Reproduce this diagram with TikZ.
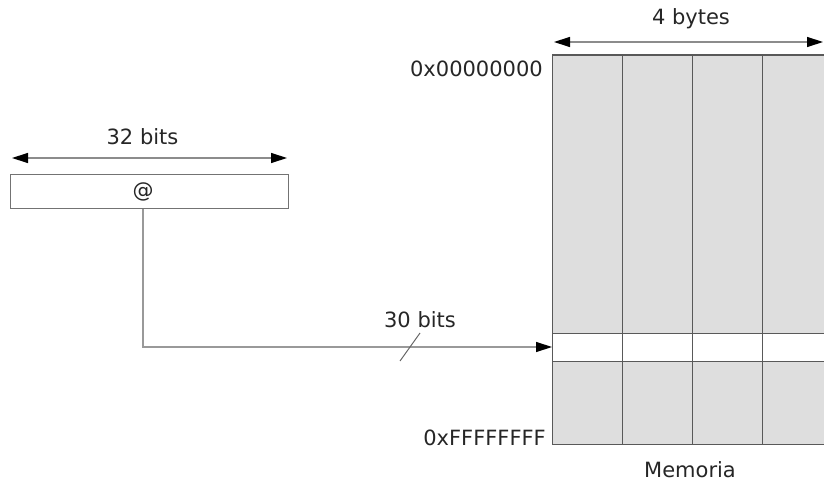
\documentclass[tikz,border=0pt]{standalone}
\usepackage{fontspec}
\setmainfont{DejaVu Sans}
\usetikzlibrary{arrows.meta}
\begin{document}
\begin{tikzpicture}[x=1pt,y=-1pt,
  lbl/.style={font=\fontsize{21}{24}\selectfont, text=black!85, inner sep=0pt},
  tip/.tip={Triangle[length=16pt,width=10pt,color=black]},
  dimline/.style={draw=black!45, line width=1.3pt, tip-tip},
  cell/.style={draw=black!65, line width=1pt},
  wire/.style={draw=black!40, line width=1.3pt}]
\useasboundingbox (0,0) rectangle (824,484);

% register holding the address
\node[draw=black!55, line width=1pt, minimum width=278pt, minimum height=34pt,
      inner sep=0pt, anchor=north west] (reg) at (10,174) {};
\node[lbl] (addr) at (143,192) {@};
\coordinate (regL) at (12,158);
\coordinate (regR) at (287,158);
\draw[dimline] (regL) -- (regR);
\node[lbl] (w32) at (142.5,137) {32 bits};

% memory block: grey array with one highlighted word
\node[fill=black!13, draw=black!65, line width=1pt, minimum width=280pt,
      minimum height=389pt, inner sep=0pt, anchor=north west] (mem) at (552,55) {};
\fill[white] (552,333) rectangle (832,361);
\foreach \cx in {622,692,762}
  \draw[cell] (\cx,55) -- (\cx,444);
\draw[cell] (552,333) -- (832,333);
\draw[cell] (552,361) -- (832,361);
\draw[cell] (552,55) rectangle (832,444);
\coordinate (row) at (552,347);

\coordinate (memL) at (554,42);
\coordinate (memR) at (823,42);
\draw[dimline] (memL) -- (memR);
\node[lbl] (w4) at (691,19) {4 bytes};

\node[lbl, anchor=east] (top) at (543,69) {0x00000000};
\node[lbl, anchor=east] (bot) at (546,438) {0xFFFFFFFF};
\node[lbl] (memname) at (690,470) {Memoria};

% address bus into memory
\draw[wire, -tip] (addr |- reg.south) |- (row);
\coordinate (s1) at (400,361);
\coordinate (s2) at (420,333);
\draw[draw=black!60, line width=1pt] (s1) -- (s2);
\node[lbl] (w30) at (420,320) {30 bits};
\end{tikzpicture}
\end{document}
